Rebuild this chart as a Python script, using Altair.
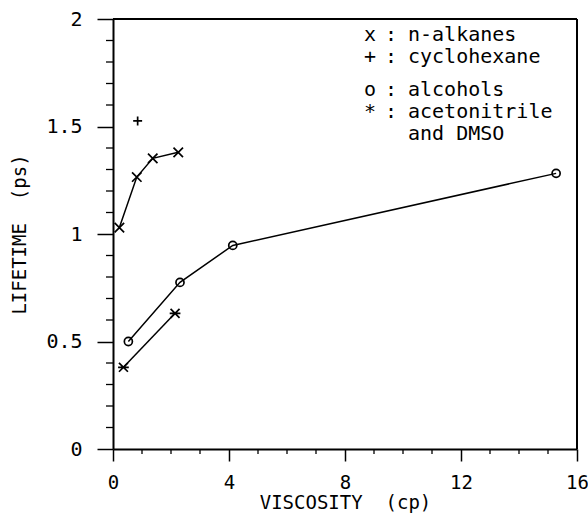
import altair as alt
import pandas as pd

# data
alk_x = [0.22, 0.82, 1.37, 2.25]
alk_y = [1.03, 1.265, 1.352, 1.38]
cyc_x = [0.85]
cyc_y = [1.526]
alc_x = [0.53, 2.31, 4.13, 15.28]
alc_y = [0.50, 0.775, 0.947, 1.282]
ace_x = [0.36, 2.14]
ace_y = [0.38, 0.631]

legend_sym = ["x", "+", "o", "*", ""]
legend_txt = ["n-alkanes", "cyclohexane", "alcohols", "acetonitrile", "and DMSO"]
legend_y = [1.926, 1.823, 1.67, 1.567, 1.465]

FONT = "DejaVu Sans Mono"
FS = 19
NB = "\u00a0"

X_SHAPE = "M-1,-1L1,1M1,-1L-1,1"
PLUS_SHAPE = "M-1,0L1,0M0,-1L0,1"
CIRC_SHAPE = "circle"
STAR_SHAPE = "M-1,-1L1,1M1,-1L-1,1M-1.2,0L1.2,0"

alk = pd.DataFrame({"x": alk_x, "y": alk_y})
cyc = pd.DataFrame({"x": cyc_x, "y": cyc_y})
alc = pd.DataFrame({"x": alc_x, "y": alc_y})
ace = pd.DataFrame({"x": ace_x, "y": ace_y})

xs = alt.Scale(domain=[0, 16], nice=False, zero=False)
ys = alt.Scale(domain=[0, 2], nice=False, zero=False)

X_AXIS = alt.Axis(values=[0, 4, 8, 12, 16], format="d", tickSize=12, tickWidth=1.5,
                  domainWidth=2, domainColor="black", tickColor="black",
                  labelFont=FONT, labelFontSize=FS, labelColor="black", labelPadding=12,
                  titleFont=FONT, titleFontSize=FS, titleFontWeight="normal",
                  titleColor="black", titlePadding=1, grid=False, labelFlush=False)
Y_AXIS = alt.Axis(values=[0, 0.5, 1, 1.5, 2], tickSize=16, tickWidth=1.5,
                  domainWidth=2, domainColor="black", tickColor="black",
                  labelExpr="datum.value == 0 ? '0' : datum.value == 1 ? '1' : datum.value == 2 ? '2' : datum.label",
                  labelFont=FONT, labelFontSize=FS + 1, labelColor="black", labelPadding=15,
                  titleFont=FONT, titleFontSize=FS, titleFontWeight="normal",
                  titleColor="black", titlePadding=16, grid=False, labelFlush=False)

XT = "VISCOSITY" + NB + NB + "(cp)"
YT = "LIFETIME" + NB + NB + "(ps)"

def X():
    return alt.X("x:Q", scale=xs, axis=X_AXIS, title=XT)

def Y():
    return alt.Y("y:Q", scale=ys, axis=Y_AXIS, title=YT)

minor_x = alt.Chart(pd.DataFrame({"x": [v for v in range(1, 16) if v % 4]})).mark_rule(
    color="black", strokeWidth=1.3).encode(
    x=X(), y=alt.value(430), y2=alt.value(435))
minor_y = alt.Chart(pd.DataFrame({"y": [i / 10 for i in range(1, 20) if i % 5]})).mark_rule(
    color="black", strokeWidth=1.3).encode(
    y=Y(), x=alt.value(-7), x2=alt.value(0))

frame_top = alt.Chart(pd.DataFrame({"a": [0]})).mark_rule(color="black", strokeWidth=2).encode(
    x=alt.value(0), x2=alt.value(464), y=alt.value(0))
frame_right = alt.Chart(pd.DataFrame({"a": [0]})).mark_rule(color="black", strokeWidth=2).encode(
    x=alt.value(464), y=alt.value(0), y2=alt.value(430))

def series(df, shape, line=True, size=90):
    pts = alt.Chart(df).mark_point(shape=shape, filled=False, color="black", size=size,
                                   strokeWidth=1.7, opacity=1).encode(x=X(), y=Y())
    if line:
        ln = alt.Chart(df).mark_line(color="black", strokeWidth=1.5).encode(x=X(), y=Y())
        return ln + pts
    return pts

s_alk = series(alk, X_SHAPE)
s_cyc = series(cyc, PLUS_SHAPE, line=False, size=80)
s_alc = series(alc, CIRC_SHAPE, size=65)
s_ace = series(ace, STAR_SHAPE, size=80)

leg = pd.DataFrame({"sym": legend_sym, "txt": legend_txt, "y": legend_y})
leg_sym = alt.Chart(leg).mark_text(font=FONT, fontSize=FS + 1, align="left", baseline="middle",
                                   color="black").encode(
    x=alt.value(251), y=Y(), text=alt.Text("sym:N"))
leg_colon = alt.Chart(leg[leg["sym"] != ""]).mark_text(font=FONT, fontSize=FS + 1, align="left",
                                                       baseline="middle", color="black", text=":").encode(
    x=alt.value(272), y=Y())
leg_txt = alt.Chart(leg).mark_text(font=FONT, fontSize=FS + 1, align="left", baseline="middle",
                                   color="black").encode(
    x=alt.value(295), y=Y(), text=alt.Text("txt:N"))

chart = alt.layer(minor_x, minor_y, frame_top, frame_right,
                  s_alk, s_cyc, s_alc, s_ace, leg_sym, leg_colon, leg_txt).properties(
    width=464, height=430,
    autosize=alt.AutoSizeParams(type="none"),
    padding={"left": 113, "top": 19, "right": 11, "bottom": 66},
    background="white",
).configure_view(stroke=None)

chart.save("out.html", embed_options={"renderer": "svg", "actions": False})
